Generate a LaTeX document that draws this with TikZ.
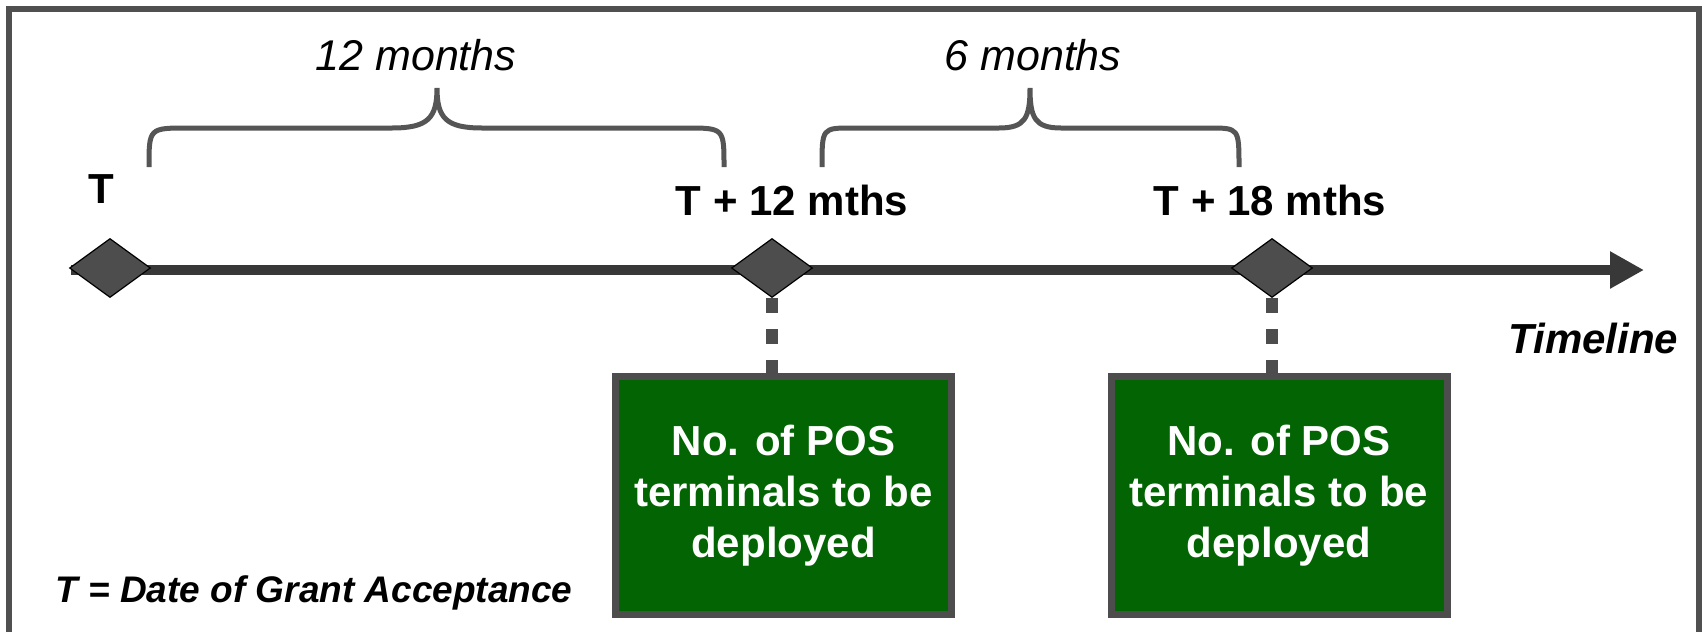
\documentclass[tikz,border=0pt]{standalone}
\usepackage{fontspec}
\setmainfont{Liberation Sans}
\usepackage{tikz}
\usetikzlibrary{positioning,
                arrows.meta,                % arrow tips
                shapes.geometric,           % diamond milestones
                backgrounds}

\definecolor{framegray}{HTML}{505050}
\definecolor{axisgray}{HTML}{383838}
\definecolor{markgray}{HTML}{4D4D4D}
\definecolor{bracegray}{HTML}{555555}
\definecolor{boxgreen}{HTML}{036403}

\tikzset{
  milestone/.style={diamond, draw=black, line width=0.6pt, fill=markgray,
                    minimum width=40.5pt, minimum height=29.5pt, inner sep=0pt},
  datelabel/.style={font=\fontsize{21}{25}\selectfont\bfseries, anchor=base, inner sep=0pt},
  spanlabel/.style={font=\fontsize{21.5}{25}\selectfont\itshape, anchor=base, inner sep=0pt},
  notelabel/.style={font=\bfseries\itshape, anchor=base west, inner sep=0pt},
  spanbrace/.style={bracegray, line width=2.5pt},
  targetbox/.style={draw=markgray, line width=3.5pt, fill=boxgreen, text=white, align=center,
                    minimum width=168pt, minimum height=119pt,
                    font=\fontsize{21}{25.5}\selectfont\bfseries},
  dropline/.style={markgray, line width=6pt, dash pattern=on 7.5pt off 8pt}
}

\begin{document}
\begin{tikzpicture}[x=0.5pt,y=-0.5pt]
  \useasboundingbox (0,0) rectangle (1707,632);
  \draw[framegray, line width=3pt] (9,632) -- (9,9) -- (1699,9) -- (1699,632);

  % timeline
  \coordinate (start) at (71,270);
  \coordinate (end) at (1644,270);
  \draw[axisgray, line width=5pt, -{Triangle[length=17pt,width=17.5pt]}] (start) -- (end);

  \node[milestone] (m0) at (110,268) {};
  \node[milestone] (m12) at (772,268) {};
  \node[milestone] (m18) at (1272,268) {};

  \node[datelabel] (l0) at (101,203) {T};
  \node[datelabel] (l12) at (792,215) {T + 12 mths};
  \node[datelabel] (l18) at (1270,215) {T + 18 mths};

  % braces over the two periods
  \draw[spanbrace] (149,167) .. controls (149,128) .. (188,128) -- (392,128)
        .. controls (428,128) and (437,118) .. (437,88)
        .. controls (437,118) and (446,128) .. (482,128) -- (686,128)
        .. controls (724,128) .. (724,167);
  \draw[spanbrace] (822,167) .. controls (822,128) .. (852,128) -- (999,128)
        .. controls (1025,128) and (1030,118) .. (1030,88)
        .. controls (1030,118) and (1035,128) .. (1061,128) -- (1209,128)
        .. controls (1239,128) .. (1239,167);

  \node[spanlabel] (s12) at (416,70) {12 months};
  \node[spanlabel] (s6) at (1033,70) {6 months};

  % targets
  \node[targetbox] (b12) at (783.5,495.5) {No. of POS\\terminals to be\\deployed};
  \node[targetbox] (b18) at (1279,495.5) {No. of POS\\terminals to be\\deployed};
  \begin{scope}[on background layer]
    \draw[dropline] (m12.south) -- (m12.south |- b12.north);
    \draw[dropline] (m18.south) -- (m18.south |- b18.north);
  \end{scope}

  \node[notelabel, font=\fontsize{21}{25}\selectfont\bfseries\itshape] (axis) at (1508,353) {Timeline};
  \node[notelabel, font=\fontsize{18.5}{22}\selectfont\bfseries\itshape] (key) at (55,602) {T = Date of Grant Acceptance};
\end{tikzpicture}
\end{document}
